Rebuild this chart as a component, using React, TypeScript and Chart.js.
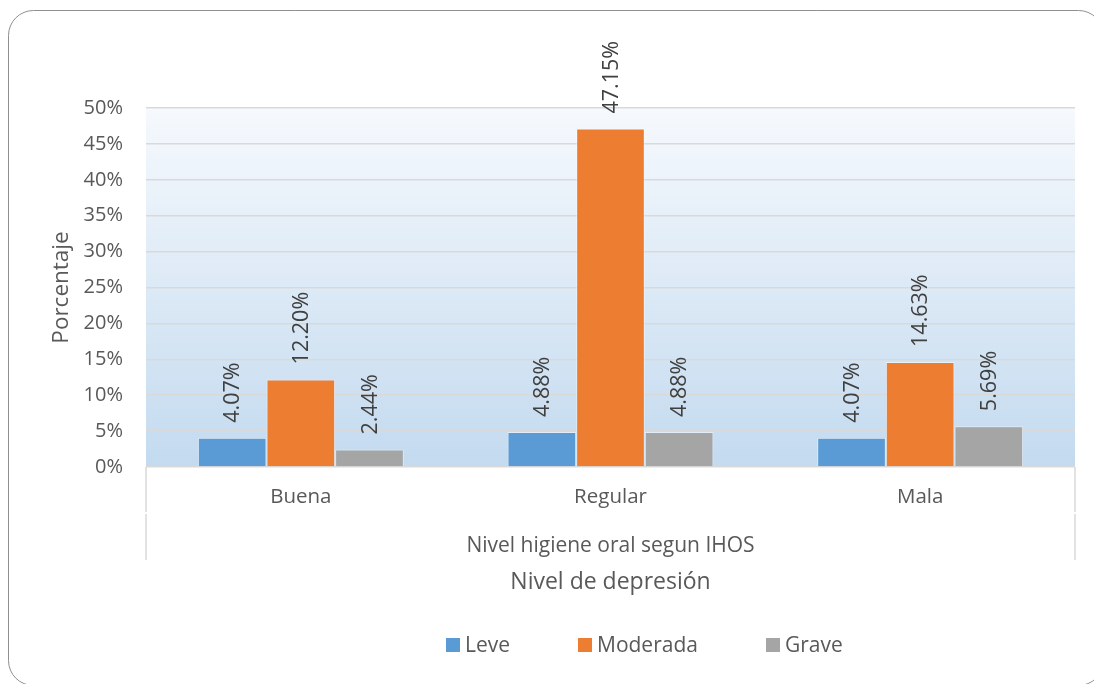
import React, { useEffect, useRef } from "react";
import { Chart, registerables } from "chart.js";

Chart.register(...registerables);

const categories = ["Buena", "Regular", "Mala"];
const seriesNames = ["Leve", "Moderada", "Grave"];
const leve = [4.07, 4.88, 4.07];
const moderada = [12.2, 47.15, 14.63];
const grave = [2.44, 4.88, 5.69];
const seriesColors = ["#5b9bd5", "#ed7d31", "#a5a5a5"];
const yTicksMax = 50;
const yStep = 5;
const yTitle = "Porcentaje";
const xSubTitle = "Nivel higiene oral segun IHOS";
const xTitle = "Nivel de depresión";

const FONT = "'Open Sans', 'DejaVu Sans', sans-serif";
const TEXT = "#595959";

const decorPlugin = {
  id: "decor",
  beforeDraw(chart: any) {
    const { ctx, chartArea: a } = chart;
    ctx.save();
    ctx.fillStyle = "#ffffff";
    ctx.fillRect(0, 0, chart.width, chart.height);
    // outer rounded border
    ctx.strokeStyle = "#8f8f8f";
    ctx.lineWidth = 1;
    ctx.beginPath();
    ctx.roundRect(8.5, 10.5, 1095, 675, 25);
    ctx.stroke();
    // plot gradient
    const g = ctx.createLinearGradient(0, a.top, 0, a.bottom);
    g.addColorStop(0, "#f6f9fd");
    g.addColorStop(1, "#c3daef");
    ctx.fillStyle = g;
    ctx.fillRect(a.left, a.top, a.right - a.left, a.bottom - a.top);
    ctx.restore();
  },
  afterDraw(chart: any) {
    const { ctx, chartArea: a } = chart;
    ctx.save();
    // data labels
    ctx.fillStyle = "#404040";
    ctx.font = `21.5px ${FONT}`;
    ctx.textAlign = "left";
    ctx.textBaseline = "middle";
    chart.data.datasets.forEach((ds: any, di: number) => {
      const meta = chart.getDatasetMeta(di);
      meta.data.forEach((bar: any, i: number) => {
        const v = ds.data[i];
        ctx.save();
        ctx.translate(bar.x, bar.y - 15);
        ctx.rotate(-Math.PI / 2);
        ctx.fillText(v.toFixed(2) + "%", 0, 1);
        ctx.restore();
      });
    });
    // divider lines below axis
    ctx.strokeStyle = "#d9d9d9";
    ctx.lineWidth = 1.5;
    [a.left, a.right].forEach((x: number) => {
      ctx.beginPath();
      ctx.moveTo(x, a.bottom);
      ctx.lineTo(x, 512);
      ctx.moveTo(x, 514);
      ctx.lineTo(x, 560);
      ctx.stroke();
    });
    // sub title
    ctx.fillStyle = TEXT;
    ctx.textAlign = "center";
    ctx.textBaseline = "middle";
    const cx = (a.left + a.right) / 2;
    ctx.font = `21px ${FONT}`;
    ctx.fillText(xSubTitle, cx, 546);
    ctx.font = `23px ${FONT}`;
    ctx.fillText(xTitle, cx, 582);
    // y title
    ctx.save();
    ctx.translate(62, (a.top + a.bottom) / 2);
    ctx.rotate(-Math.PI / 2);
    ctx.font = `22.5px ${FONT}`;
    ctx.fillText(yTitle, 0, 0);
    ctx.restore();
    // legend
    const legendX = [446, 578, 766];
    ctx.font = `21px ${FONT}`;
    ctx.textAlign = "left";
    seriesNames.forEach((name, i) => {
      ctx.fillStyle = seriesColors[i];
      ctx.fillRect(legendX[i], 638, 14, 14);
      ctx.fillStyle = TEXT;
      ctx.fillText(name, legendX[i] + 19, 646);
    });
    ctx.restore();
  },
};

export default function App() {
  const ref = useRef<HTMLCanvasElement>(null);
  useEffect(() => {
    if (!ref.current) return;
    const seriesData = [leve, moderada, grave];
    const chart = new Chart(ref.current, {
      type: "bar",
      data: {
        labels: categories,
        datasets: seriesNames.map((n, i) => ({
          label: n,
          data: seriesData[i],
          backgroundColor: seriesColors[i],
          borderColor: "rgba(255,255,255,0.45)",
          borderWidth: 1,
          categoryPercentage: 0.665,
          barPercentage: 1,
        })),
      },
      options: {
        responsive: false,
        animation: false,
        layout: { padding: { top: 108, right: 19, left: 0, bottom: 0 } },
        plugins: { legend: { display: false }, tooltip: { enabled: false } },
        scales: {
          x: {
            grid: { display: false, drawTicks: false },
            border: { display: false },
            ticks: { color: TEXT, font: { family: FONT, size: 20.5 }, padding: 18 },
            afterFit: (s: any) => {
              s.height = 217;
            },
          },
          y: {
            min: 0,
            max: yTicksMax,
            grid: { color: "#d9d9d9", lineWidth: 1.5, drawTicks: false },
            border: { display: false },
            ticks: {
              stepSize: yStep,
              color: TEXT,
              font: { family: FONT, size: 20 },
              padding: 23,
              callback: (v: any) => v + "%",
            },
            afterFit: (s: any) => {
              s.width = 146;
            },
          },
        },
      },
      plugins: [decorPlugin],
    } as any);
    return () => chart.destroy();
  }, []);
  return (
    <div style={{ position: "absolute", left: 0, top: 0, width: 1094, height: 684 }}>
      <canvas ref={ref} width={1094} height={684} style={{ display: "block" }} />
    </div>
  );
}
